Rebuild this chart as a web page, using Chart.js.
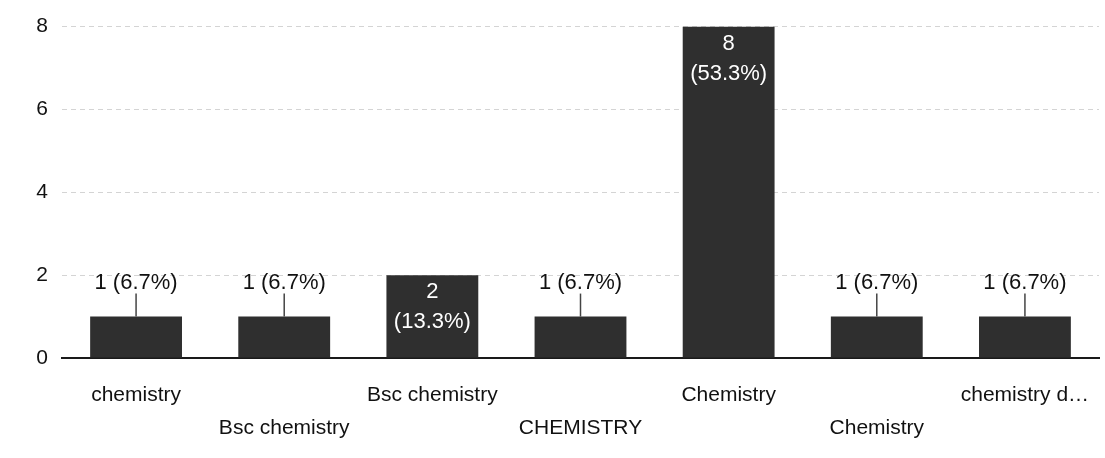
<!DOCTYPE html>
<html>
<head>
<meta charset="utf-8">
<script src="https://cdn.jsdelivr.net/npm/chart.js@4"></script>
<style>
  html, body { margin: 0; padding: 0; background: #fff; }
  #wrap { width: 1105px; height: 458px; position: relative; }
</style>
</head>
<body>
<div id="wrap"><canvas id="barChart"></canvas></div>
<script>
const categories = ['chemistry', 'Bsc chemistry', 'Bsc chemistry', 'CHEMISTRY', 'Chemistry', 'Chemistry', 'chemistry d…'];
const counts = [1, 1, 2, 1, 8, 1, 1];
const yTicks = [0, 2, 4, 6, 8];

const total = counts.reduce((a, b) => a + b, 0);
const FONT = '"Liberation Sans", Arial, sans-serif';

// labels like "1 (6.7%)" - inside tall bars, above short ones with a little leader line
const valueLabels = {
    id: 'valueLabels',
    afterDatasetsDraw(chart) {
        const ctx = chart.ctx;
        const meta = chart.getDatasetMeta(0);
        ctx.save();
        ctx.font = '22px ' + FONT;
        ctx.textAlign = 'center';
        ctx.textBaseline = 'middle';
        meta.data.forEach((bar, i) => {
            const v = counts[i];
            const pct = (v / total * 100).toFixed(1) + '%';
            const h = bar.base - bar.y;
            if (h > 60) {
                ctx.fillStyle = '#fff';
                ctx.fillText(String(v), bar.x, bar.y + 17);
                ctx.fillText('(' + pct + ')', bar.x, bar.y + 47);
            } else {
                ctx.strokeStyle = '#444';
                ctx.lineWidth = 1.5;
                ctx.beginPath();
                ctx.moveTo(bar.x, bar.y);
                ctx.lineTo(bar.x, bar.y - 23);
                ctx.stroke();
                ctx.fillStyle = '#111';
                ctx.fillText(v + ' (' + pct + ')', bar.x, bar.y - 34);
            }
        });
        ctx.restore();
    }
};

const ctx = document.getElementById('barChart').getContext('2d');
new Chart(ctx, {
    type: 'bar',
    data: {
        labels: categories,
        datasets: [{
            data: counts,
            backgroundColor: '#2f2f2f',
            borderWidth: 0,
            categoryPercentage: 1,
            barPercentage: 0.62
        }]
    },
    options: {
        responsive: true,
        maintainAspectRatio: false,
        animation: false,
        layout: { padding: { top: 10, right: 6, left: 0, bottom: 0 } },
        plugins: { legend: { display: false }, tooltip: { enabled: false } },
        scales: {
            x: {
                grid: { display: false },
                border: { display: true, color: '#1a1a1a', width: 2 },
                afterFit(scale) { scale.height = 100; },
                ticks: {
                    autoSkip: false,
                    maxRotation: 0,
                    padding: 12,
                    color: '#111',
                    font: { family: FONT, size: 21, lineHeight: 1.6 },
                    // every other label drops to a second row
                    callback(value, index) {
                        const lbl = categories[index];
                        return index % 2 ? ['', lbl] : lbl;
                    }
                }
            },
            y: {
                min: 0,
                max: 8,
                afterFit(scale) { scale.width = 62; },
                afterBuildTicks(scale) { scale.ticks = yTicks.map(v => ({ value: v })); },
                grid: { color: '#d4d4d4', drawTicks: false },
                border: { display: false, dash: [5, 4] },
                ticks: {
                    padding: 14,
                    color: '#111',
                    font: { family: FONT, size: 21 }
                }
            }
        }
    },
    plugins: [valueLabels]
});
</script>
</body>
</html>
